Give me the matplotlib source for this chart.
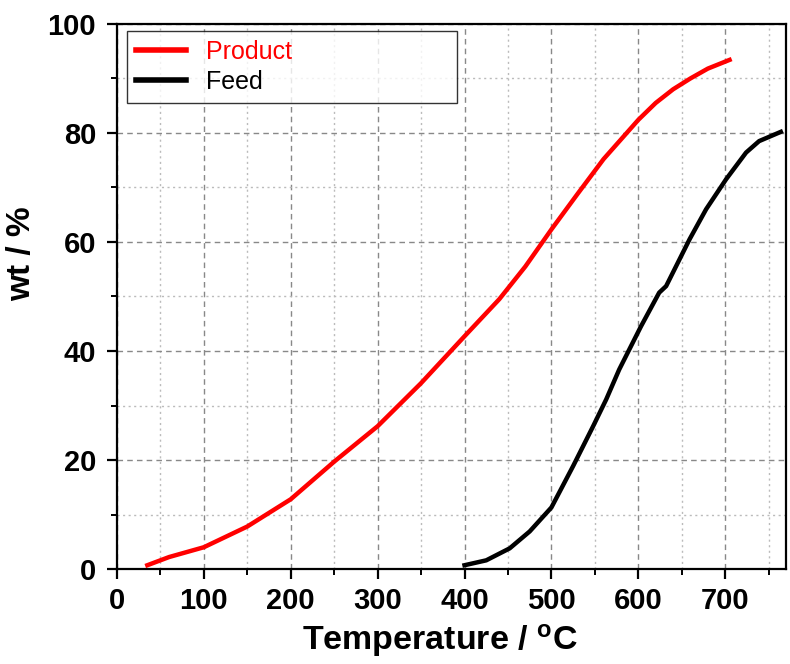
import matplotlib.pyplot as plt
from matplotlib.ticker import MultipleLocator

# values
product_t = [35, 60, 100, 150, 200, 250, 300, 350, 400, 440, 470, 500, 530, 560, 600, 620, 640, 660, 680, 705]
product_wt = [0.7, 2.2, 4.0, 7.8, 12.8, 19.7, 26.2, 34.1, 42.7, 49.5, 55.5, 62.3, 68.8, 75.2, 82.4, 85.5, 88.0, 90.0, 91.8, 93.4]

feed_t = [400, 425, 452, 475, 500, 525, 548, 563, 578, 603, 624, 632, 659, 678, 701, 724, 739, 764]
feed_wt = [0.7, 1.6, 3.8, 6.9, 11.3, 18.9, 26.2, 31.1, 36.6, 44.5, 50.7, 51.9, 60.5, 66.0, 71.5, 76.4, 78.5, 80.2]

plt.rcParams['font.family'] = ['Liberation Sans', 'DejaVu Sans']

fig = plt.figure(figsize=(7.9, 6.64), dpi=100)
ax = fig.add_axes([0.148, 0.143, 0.847, 0.821])

ax.plot(product_t, product_wt, color='red', lw=3.2, label='Product', zorder=3)
ax.plot(feed_t, feed_wt, color='black', lw=3.2, label='Feed', zorder=3)

ax.set_xlim(0, 770)
ax.set_ylim(0, 100)
ax.xaxis.set_major_locator(MultipleLocator(100))
ax.xaxis.set_minor_locator(MultipleLocator(50))
ax.yaxis.set_major_locator(MultipleLocator(20))
ax.yaxis.set_minor_locator(MultipleLocator(10))

ax.grid(which='major', color='#888888', ls=(0, (4, 3)), lw=1.0, zorder=0)
ax.grid(which='minor', color='#bbbbbb', ls=(0, (1.5, 2.5)), lw=1.0, zorder=0)
ax.set_axisbelow(True)

for s in ax.spines.values():
    s.set_linewidth(1.6)

ax.tick_params(which='major', direction='out', length=7, width=1.6, labelsize=21)
ax.tick_params(which='minor', direction='out', length=4, width=1.4)
ax.tick_params(axis='y', which='major', pad=8)
ax.tick_params(axis='x', which='major', pad=6)
for lab in ax.get_xticklabels() + ax.get_yticklabels():
    lab.set_fontweight('bold')

ax.set_xlabel('Temperature / $\\mathregular{^{o}}$C', fontsize=24.5, fontweight='bold')
ax.xaxis.set_label_coords(0.482, -0.098)
ax.set_ylabel('wt / %', fontsize=24, fontweight='bold')
ax.yaxis.set_label_coords(-0.12, 0.578)

leg = ax.legend(loc='upper left', fontsize=18, frameon=True, fancybox=False,
                edgecolor='black', handlelength=2.0, handletextpad=0.8,
                borderpad=0.35, borderaxespad=0, labelspacing=0.25,
                mode='expand', bbox_to_anchor=(0.015, 0.866, 0.493, 0.121))
leg.get_frame().set_linewidth(1.0)
for h in leg.get_lines():
    h.set_linewidth(4)
leg.get_texts()[0].set_color('red')
leg.get_texts()[1].set_color('black')

fig.savefig('out.png', dpi=100)
